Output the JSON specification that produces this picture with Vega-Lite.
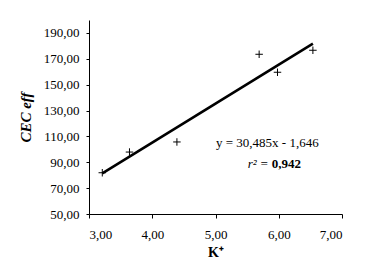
{
  "$schema": "https://vega.github.io/schema/vega-lite/v6.json",
  "autosize": "none",
  "width": 253,
  "height": 194,
  "padding": {"left": 89, "top": 20, "right": 30, "bottom": 61},
  "background": "white",
  "config": {
    "view": {"stroke": null},
    "font": "Liberation Serif",
    "axis": {"labelFont": "Liberation Serif", "titleFont": "Liberation Serif", "labelFontSize": 13, "labelColor": "black", "domainColor": "black", "tickColor": "black", "grid": false, "titleColor": "black", "labelOverlap": false}
  },
  "encoding": {
    "x": {"type": "quantitative", "scale": {"domain": [3, 7], "nice": false, "zero": false},
      "axis": {"values": [3, 4, 5, 6, 7], "labelOverlap": false, "labelExpr": "replace(format(datum.value, '.2f'), '.', ',')", "tickSize": 4, "labelPadding": 10, "title": "K⁺", "titleFontWeight": "bold", "titleFontSize": 14, "titlePadding": 4}},
    "y": {"type": "quantitative", "scale": {"domain": [50, 200], "nice": false, "zero": false},
      "axis": {"values": [50, 70, 90, 110, 130, 150, 170, 190], "labelOverlap": false, "labelExpr": "replace(format(datum.value, '.2f'), '.', ',')", "tickSize": 3, "labelPadding": 7, "title": "CEC  eff", "titleFontStyle": "italic", "titleFontWeight": "bold", "titleFontSize": 15, "titlePadding": 10}}
  },
  "layer": [
    {
      "data": {"name": "pts", "values": [
        {"K": 3.21, "CEC": 81.9},
        {"K": 3.64, "CEC": 97.9},
        {"K": 4.39, "CEC": 105.7},
        {"K": 5.69, "CEC": 173.5},
        {"K": 5.98, "CEC": 159.6},
        {"K": 6.54, "CEC": 176.6}
      ]},
      "layer": [
        {
          "mark": {"type": "line", "color": "black", "strokeWidth": 2.6},
          "transform": [{"regression": "CEC", "on": "K"}],
          "encoding": {"x": {"field": "K", "type": "quantitative"}, "y": {"field": "CEC", "type": "quantitative"}}
        },
        {
          "mark": {"type": "point", "shape": "M-1,0H1M0,-1V1", "size": 56, "filled": false, "stroke": "black", "strokeWidth": 1, "opacity": 1},
          "encoding": {"x": {"field": "K", "type": "quantitative"}, "y": {"field": "CEC", "type": "quantitative"}}
        }
      ]
    },
    {
      "data": {"values": [{"label": "eq"}]},
      "layer": [
        {
          "mark": {"type": "text", "text": "y = 30,485x - 1,646", "fontSize": 13, "font": "Liberation Serif", "fontWeight": "normal", "align": "center", "baseline": "middle", "color": "black"},
          "encoding": {"x": {"datum": 5.82}, "y": {"datum": 104.9}}
        },
        {
          "mark": {"type": "text", "text": "r² =", "fontSize": 13, "font": "Liberation Serif", "fontStyle": "italic", "align": "right", "baseline": "middle", "color": "black"},
          "encoding": {"x": {"datum": 5.84}, "y": {"datum": 88.7}}
        },
        {
          "mark": {"type": "text", "text": "0,942", "fontSize": 13, "font": "Liberation Serif", "fontWeight": "bold", "align": "left", "baseline": "middle", "dx": 3, "color": "black"},
          "encoding": {"x": {"datum": 5.84}, "y": {"datum": 88.7}}
        }
      ]
    }
  ]
}
